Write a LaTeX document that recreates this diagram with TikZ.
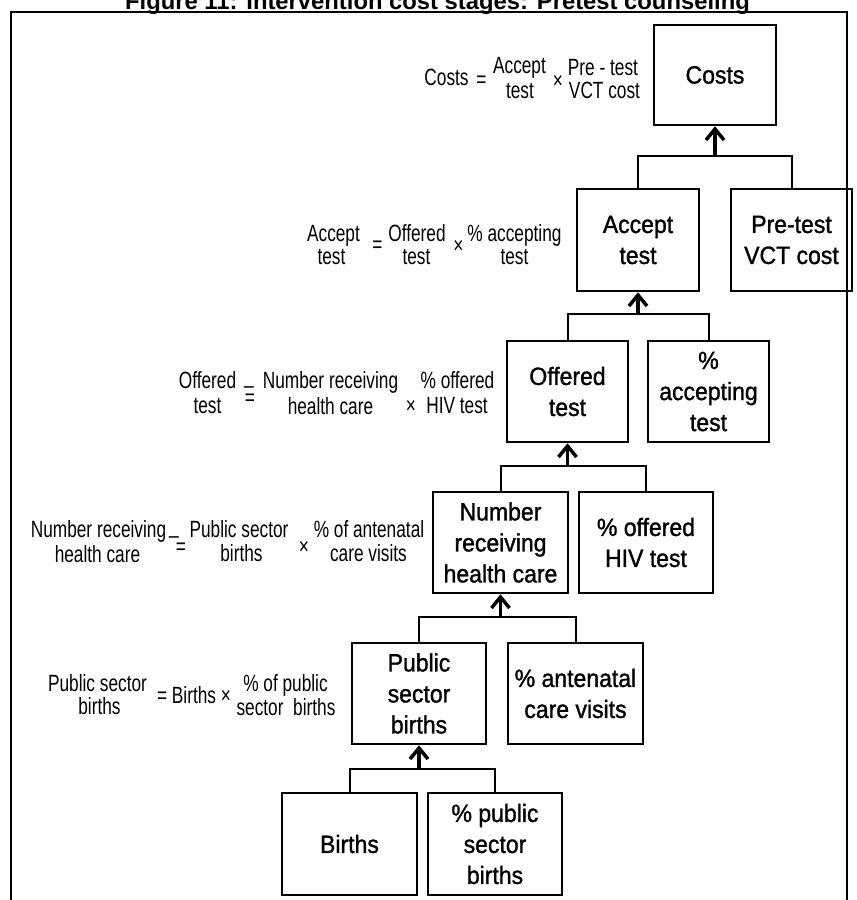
\documentclass[tikz,border=0pt]{standalone}
\usepackage{fontspec}
\setmainfont{Liberation Sans}
\newfontfamily\eqfont[FakeStretch=0.735]{Liberation Sans}
\newfontfamily\bxfont[FakeStretch=0.92,FakeBold=1.2]{Liberation Sans}
\usetikzlibrary{arrows.meta}
\begin{document}
\begin{tikzpicture}[x=1pt,y=-1pt,
  box/.style={draw, line width=2.5pt, inner sep=0pt, align=center,
    font=\bxfont\fontsize{25}{31}\selectfont},
  eq/.style={anchor=base, inner sep=0pt, font=\eqfont\fontsize{23.5}{26}\selectfont},
  conn/.style={line width=2pt},
  arr/.style={line width=3.5pt, -{Straight Barb[length=11pt,width=18pt]}},
  frame/.style={line width=2pt}]
\useasboundingbox (0,0) rectangle (857,900);
% title (top partly cut by page edge)
\node[anchor=base, inner sep=0pt, font=\bfseries\fontsize{23.8}{28}\selectfont] (title) at (437.5,9.5)
  {Figure 11: Intervention cost stages: Pretest counseling};
% frame
\draw[frame] (11,900) -- (11,12) -- (847,12) -- (847,900);
% boxes
\node[box, minimum width=122pt, minimum height=100pt] (costs) at (715,75) {Costs};
\node[box, minimum width=122pt, minimum height=102pt] (accept) at (638,240) {Accept\\test};
\node[box, minimum width=121pt, minimum height=102pt] (pretest) at (791.5,240) {Pre-test\\VCT cost};
\node[box, minimum width=121pt, minimum height=101pt] (offered) at (567.5,391.5) {Offered\\test};
\node[box, minimum width=121pt, minimum height=101pt] (pacc) at (708.5,391.5) {\%\\accepting\\test};
\node[box, minimum width=135pt, minimum height=101pt] (number) at (500.5,542.5) {Number\\receiving\\health care};
\node[box, minimum width=134pt, minimum height=101pt] (poff) at (646,542.5) {\% offered\\HIV test};
\node[box, minimum width=134pt, minimum height=101pt] (public) at (419,693.5) {Public\\sector\\births};
\node[box, minimum width=135pt, minimum height=101pt] (pante) at (575.5,693.5) {\% antenatal\\care visits};
\node[box, minimum width=135pt, minimum height=102pt] (births) at (349.5,844) {Births};
\node[box, minimum width=134pt, minimum height=102pt] (ppub) at (495,844) {\% public\\sector\\births};
% junctions
\coordinate (j1) at (715,156);
\coordinate (j2) at (638,314);
\coordinate (j3) at (567.5,466);
\coordinate (j4) at (500.5,617);
\coordinate (j5) at (419,769);
% connectors
\draw[conn] (accept.north) |- (j1) -| (pretest.north);
\draw[arr] (j1) -- (costs.south);
\draw[conn] (offered.north) |- (j2) -| (pacc.north);
\draw[arr] (j2) -- (accept.south);
\draw[conn] (number.north) |- (j3) -| (poff.north);
\draw[arr] (j3) -- (offered.south);
\draw[conn] (public.north) |- (j4) -| (pante.north);
\draw[arr] (j4) -- (number.south);
\draw[conn] (births.north) |- (j5) -| (ppub.north);
\draw[arr] (j5) -- (public.south);
% formula 1
\node[eq] (f1a) at (446.5,85) {Costs};
\node[eq] (f1b) at (481.5,87) {=};
\node[eq] (f1c) at (519.5,73) {Accept};
\node[eq] (f1d) at (520,98) {test};
\node[eq] (f1e) at (558,88) {×};
\node[eq] (f1f) at (603,75) {Pre - test};
\node[eq] (f1g) at (604.5,98) {VCT cost};
% formula 2
\node[eq] (f2a) at (333.5,241) {Accept};
\node[eq] (f2b) at (331.5,264) {test};
\node[eq] (f2c) at (377.5,252) {=};
\node[eq] (f2d) at (417,241) {Offered};
\node[eq] (f2e) at (416.5,264) {test};
\node[eq] (f2f) at (458.5,253) {×};
\node[eq] (f2g) at (514.5,241) {\% accepting};
\node[eq] (f2h) at (514.5,264) {test};
% formula 3
\node[eq] (f3a) at (207.5,388) {Offered};
\node[eq] (f3b) at (207.5,413) {test};
\node[eq] (f3c) at (249,383) {\_};
\node[eq] (f3d) at (250,405) {=};
\node[eq] (f3e) at (330.5,388) {Number receiving};
\node[eq] (f3f) at (330.5,414) {health care};
\node[eq] (f3g) at (411,413) {×};
\node[eq] (f3h) at (457.5,388) {\% offered};
\node[eq] (f3i) at (457,413) {HIV test};
% formula 4
\node[eq] (f4a) at (98.5,537) {Number receiving};
\node[eq] (f4b) at (97.5,562) {health care};
\node[eq] (f4c) at (174,533) {\_};
\node[eq] (f4d) at (181,554) {=};
\node[eq] (f4e) at (239,537) {Public sector};
\node[eq] (f4f) at (241.5,561) {births};
\node[eq] (f4g) at (304,554) {×};
\node[eq] (f4h) at (369,537) {\% of antenatal};
\node[eq] (f4i) at (368.5,561) {care visits};
% formula 5
\node[eq] (f5a) at (97.5,691) {Public sector};
\node[eq] (f5b) at (99.5,714) {births};
\node[eq] (f5c) at (194,703) {= Births ×};
\node[eq] (f5d) at (285.5,691) {\% of public};
\node[eq] (f5e) at (286,715) {sector\ \ births};
\end{tikzpicture}
\end{document}
